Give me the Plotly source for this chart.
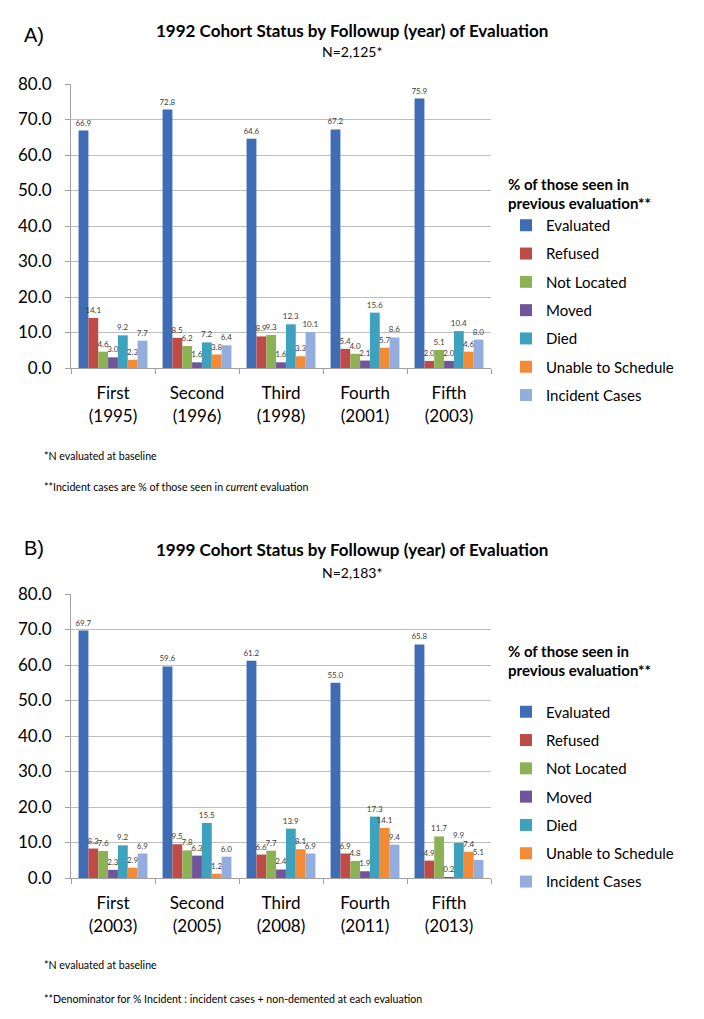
import plotly.graph_objects as go

series = ["Evaluated", "Refused", "Not Located", "Moved", "Died",
          "Unable to Schedule", "Incident Cases"]
colors = ["#3E6DB5", "#BE4B48", "#8DB255", "#71559A", "#3EA1BE", "#F28A36", "#93AEDE"]

cats_a = ["First<br>(1995)", "Second<br>(1996)", "Third<br>(1998)", "Fourth<br>(2001)", "Fifth<br>(2003)"]
cats_b = ["First<br>(2003)", "Second<br>(2005)", "Third<br>(2008)", "Fourth<br>(2011)", "Fifth<br>(2013)"]

evaluated_a = [66.9, 72.8, 64.6, 67.2, 75.9]
refused_a = [14.1, 8.5, 8.9, 5.4, 2.0]
not_located_a = [4.6, 6.2, 9.3, 4.0, 5.1]
moved_a = [3.0, 1.6, 1.6, 2.1, 2.0]
died_a = [9.2, 7.2, 12.3, 15.6, 10.4]
unable_a = [2.3, 3.8, 3.3, 5.7, 4.6]
incident_a = [7.7, 6.4, 10.1, 8.6, 8.0]

evaluated_b = [69.7, 59.6, 61.2, 55.0, 65.8]
refused_b = [8.3, 9.5, 6.6, 6.9, 4.9]
not_located_b = [7.6, 7.8, 7.7, 4.8, 11.7]
moved_b = [2.3, 6.3, 2.4, 1.9, 0.2]
died_b = [9.2, 15.5, 13.9, 17.3, 9.9]
unable_b = [2.9, 1.2, 8.1, 14.1, 7.4]
incident_b = [6.9, 6.0, 6.9, 9.4, 5.1]

yticks = [0, 10, 20, 30, 40, 50, 60, 70, 80]

data_a = [evaluated_a, refused_a, not_located_a, moved_a, died_a, unable_a, incident_a]
data_b = [evaluated_b, refused_b, not_located_b, moved_b, died_b, unable_b, incident_b]

W, H = 704, 1019
FONT = "Lato"
OFF = 8  # page body margin

fig = go.Figure()

for panel, cats, data, xa, ya, leg in [("a", cats_a, data_a, "x", "y", "legend"),
                                       ("b", cats_b, data_b, "x2", "y2", "legend2")]:
    for name, col, vals in zip(series, colors, data):
        fig.add_trace(go.Bar(
            x=cats, y=vals, name=name, marker_color=col, marker_line_width=0,
            xaxis=xa, yaxis=ya, legend=leg, legendgroup=panel + name,
            text=[f"{v:.1f}" for v in vals], textposition="outside",
            textfont=dict(size=8, color="#404040", family=FONT),
            constraintext="none", cliponaxis=False,
        ))

def px_x(p):
    return (p - OFF) / W

def px_y(p):
    return 1 - (p - OFF) / H

axis_common = dict(showline=True, linecolor="#A0A0A0", linewidth=1,
                   ticks="outside", ticklen=5, tickcolor="#A0A0A0", automargin=False,
                   tickfont=dict(size=17, color="black", family=FONT))

legend_title = "<b>% of those seen in<br>previous evaluation**</b>"

fig.update_layout(
    template="none",
    width=W, height=H, margin=dict(l=0, r=0, t=0, b=0, pad=0, autoexpand=False),
    paper_bgcolor="white", plot_bgcolor="white",
    barmode="group", bargap=0.18, bargroupgap=0,
    font=dict(family=FONT, color="black"),
    xaxis=dict(domain=[px_x(71), px_x(491)], anchor="y", tickson="boundaries",
               ticklabelstandoff=10,
               categoryorder="array", categoryarray=cats_a, showgrid=False, **axis_common),
    yaxis=dict(domain=[px_y(368), px_y(84)], anchor="x", range=[0, 80],
               tickvals=yticks, tickformat=".1f", showgrid=True, ticklabelstandoff=10,
               gridcolor="#BFBFBF", gridwidth=1, zeroline=False, **axis_common),
    xaxis2=dict(domain=[px_x(71), px_x(491)], anchor="y2", tickson="boundaries",
                ticklabelstandoff=10,
                categoryorder="array", categoryarray=cats_b, showgrid=False, **axis_common),
    yaxis2=dict(domain=[px_y(878), px_y(594)], anchor="x2", range=[0, 80],
                tickvals=yticks, tickformat=".1f", showgrid=True, ticklabelstandoff=10,
                gridcolor="#BFBFBF", gridwidth=1, zeroline=False, **axis_common),
    legend=dict(x=px_x(506), y=px_y(170), xanchor="left", yanchor="top",
                font=dict(size=15, family=FONT), tracegroupgap=5.8, itemwidth=30,
                title=dict(text=legend_title, font=dict(size=15, family=FONT), side="top"),
                bgcolor="rgba(0,0,0,0)", borderwidth=0),
    legend2=dict(x=px_x(506), y=px_y(637), xanchor="left", yanchor="top",
                 font=dict(size=15, family=FONT), tracegroupgap=5.8, itemwidth=30,
                 title=dict(text=legend_title + "<br> ", font=dict(size=15, family=FONT),
                            side="top"),
                 bgcolor="rgba(0,0,0,0)", borderwidth=0),
    showlegend=True,
)

annotations = [
    dict(text="A)", x=px_x(22), y=px_y(35), xanchor="left", yanchor="middle",
         font=dict(size=20, family="Liberation Sans")),
    dict(text="<b>1992 Cohort Status by Followup (year) of Evaluation</b>", x=px_x(352), y=px_y(31),
         xanchor="center", yanchor="middle", font=dict(size=17)),
    dict(text="N=2,125*", x=px_x(352), y=px_y(51), xanchor="center", yanchor="middle",
         font=dict(size=14)),
    dict(text="*N evaluated at baseline", x=px_x(42), y=px_y(456), xanchor="left",
         yanchor="middle", font=dict(size=10.6)),
    dict(text="**Incident cases are % of those seen in <i>current</i> evaluation", x=px_x(42),
         y=px_y(487), xanchor="left", yanchor="middle", font=dict(size=10.6)),
    dict(text="B)", x=px_x(22), y=px_y(548), xanchor="left", yanchor="middle",
         font=dict(size=20, family="Liberation Sans")),
    dict(text="<b>1999 Cohort Status by Followup (year) of Evaluation</b>", x=px_x(352), y=px_y(549),
         xanchor="center", yanchor="middle", font=dict(size=17)),
    dict(text="N=2,183*", x=px_x(352), y=px_y(572), xanchor="center", yanchor="middle",
         font=dict(size=14)),
    dict(text="*N evaluated at baseline", x=px_x(42), y=px_y(965), xanchor="left",
         yanchor="middle", font=dict(size=10.6)),
    dict(text="**Denominator for % Incident : incident cases + non-demented at each evaluation",
         x=px_x(42), y=px_y(999), xanchor="left", yanchor="middle", font=dict(size=10.6)),
]
for a in annotations:
    a.update(xref="paper", yref="paper", showarrow=False)
fig.update_layout(annotations=annotations)

fig.write_html("out.html")
